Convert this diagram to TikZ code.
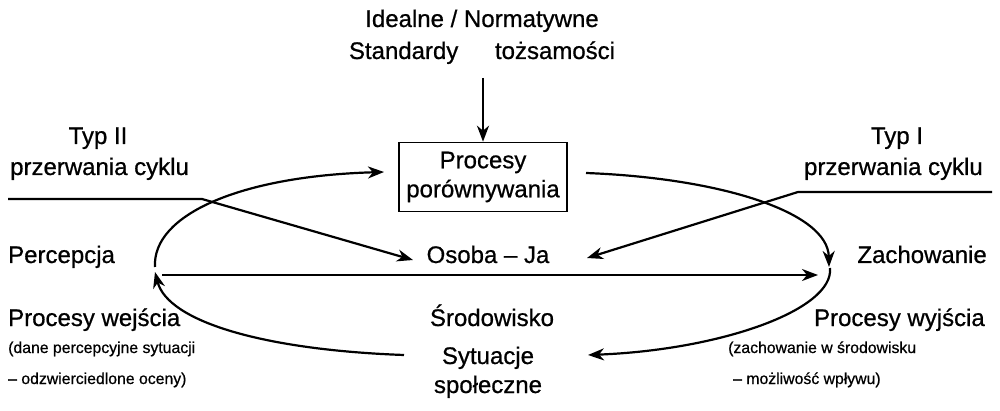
\documentclass[tikz,border=0pt]{standalone}
\usepackage{fontspec}
\setmainfont[FakeBold=0.7]{Liberation Sans}
\usetikzlibrary{arrows.meta}
\begin{document}
\begin{tikzpicture}[x=1pt,y=-1pt,
  lbl/.style={inner sep=0pt, font=\fontsize{24}{29}\selectfont},
  sml/.style={inner sep=0pt, font=\fontsize{15.8}{20}\selectfont},
  conn/.style={line width=2.2pt},
  arr/.style={conn, -{Stealth[length=16pt,width=12pt,inset=5pt]}}]
\useasboundingbox[fill=white] (0,0) rectangle (1000,411);

% top
\node[lbl, anchor=base] (ideal) at (482,27) {Idealne / Normatywne};
\node[lbl, anchor=base] (std) at (482,59) {Standardy\hspace{30pt} tożsamości};
\node[draw, line width=1.6pt, minimum width=168pt, minimum height=69pt, align=center,
      inner sep=0pt, font=\fontsize{24}{29}\selectfont] (box) at (483,177) {Procesy\\porównywania};
\coordinate (vA) at (483,78);
\draw[arr] (vA) -- (box.north);

% break labels
\node[lbl, anchor=base] (typ2) at (98,144) {Typ II};
\node[lbl, anchor=base west] (prz2) at (10,175) {przerwania cyklu};
\node[lbl, anchor=base] (typ1) at (897,144) {Typ I};
\node[lbl, anchor=base east] (prz1) at (983,175) {przerwania cyklu};

% middle row
\node[lbl, anchor=base west] (perc) at (8,263) {Percepcja};
\node[lbl, anchor=base] (osoba) at (488,263) {Osoba -- Ja};
\node[lbl, anchor=base east] (zach) at (987,263) {Zachowanie};

% lower row
\node[lbl, anchor=base west] (pwe) at (8,326) {Procesy wejścia};
\node[sml, anchor=base west] (pwe2) at (8,353) {(dane percepcyjne sytuacji};
\node[sml, anchor=base west] (pwe3) at (8,384) {-- odzwierciedlone oceny)};
\node[lbl, anchor=base] (srod) at (492,326) {Środowisko};
\node[lbl, anchor=base] (syt) at (488,364) {Sytuacje};
\node[lbl, anchor=base] (spol) at (488,393) {społeczne};
\node[lbl, anchor=base east] (pwy) at (985,326) {Procesy wyjścia};
\node[sml, anchor=base west] (pwy2) at (728,353) {(zachowanie w środowisku};
\node[sml, anchor=base west] (pwy3) at (733,384) {-- możliwość wpływu)};

% cycle
\coordinate (pL) at (155,267);
\coordinate (tUL) at (384,172);
\coordinate (sUR) at (586,173);
\coordinate (pR) at (829,267);
\coordinate (pR2) at (830,268);
\coordinate (tLR) at (588,355);
\coordinate (sLL) at (404,355);
\coordinate (tLL) at (155,272);
\coordinate (hS) at (162,275);
\coordinate (hE) at (818,275);

\draw[arr] (pL) .. controls (152,215) and (240,176) .. (tUL);
\draw[arr] (sUR) .. controls (720,178) and (828,212) .. (pR);
\draw[arr] (pR2) .. controls (834,310) and (720,350) .. (tLR);
\draw[arr] (sLL) .. controls (265,350) and (168,322) .. (tLL);
\draw[arr] (hS) -- (hE);

% break lines
\coordinate (b2a) at (8,199);
\coordinate (b2b) at (202,199);
\coordinate (b2c) at (413,260);
\draw[arr] (b2a) -- (b2b) -- (b2c);
\coordinate (b1a) at (992,192);
\coordinate (b1b) at (798,192);
\coordinate (b1c) at (587,258);
\draw[arr] (b1a) -- (b1b) -- (b1c);
\end{tikzpicture}
\end{document}
